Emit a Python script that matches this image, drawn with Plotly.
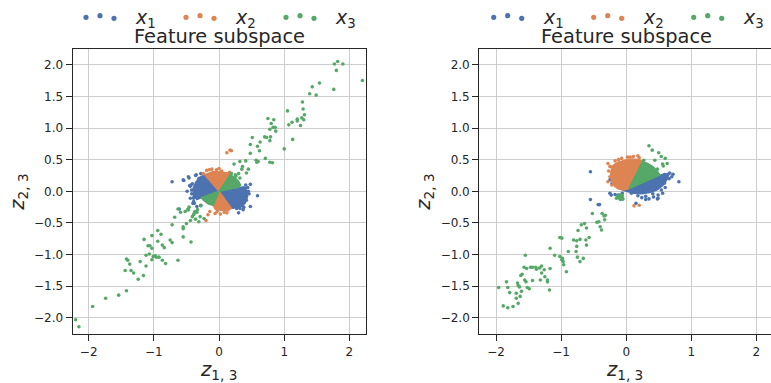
import plotly.graph_objects as go

# ---------------- data (data units) ----------------
series_labels = ["<i>x</i><sub>1</sub>", "<i>x</i><sub>2</sub>", "<i>x</i><sub>3</sub>"]
series_colors = ["#4c72b0", "#dd8452", "#55a868"]
x_ticks = [-2, -1, 0, 1, 2]
y_ticks = [-2.0, -1.5, -1.0, -0.5, 0.0, 0.5, 1.0, 1.5, 2.0]

# dense cores (outlines of the solid-looking point clouds)
left_x1_core = [(0, 0), (-0.22, 0.26), (-0.30, 0.22), (-0.36, 0.14), (-0.40, 0.04), (-0.39, -0.06),
                (-0.34, -0.13), (-0.27, -0.10), (0, 0), None,
                (0, 0), (0.31, 0.065), (0.38, 0.07), (0.43, 0.0), (0.43, -0.10), (0.40, -0.19),
                (0.33, -0.25), (0.19, -0.27), (0, 0)]
left_x2_core = [(0, 0), (0.17, 0.26), (0.12, 0.29), (0.0, 0.31), (-0.10, 0.31), (-0.18, 0.28),
                (-0.22, 0.26), (0, 0), None,
                (0, 0), (-0.09, -0.22), (-0.06, -0.28), (0.02, -0.30), (0.12, -0.30), (0.19, -0.27), (0, 0)]
left_x3_core = [(0, 0), (0.31, 0.065), (0.33, 0.10), (0.30, 0.16), (0.24, 0.22), (0.17, 0.26), (0, 0), None,
                (0, 0), (-0.27, -0.10), (-0.24, -0.14), (-0.16, -0.20), (-0.09, -0.22), (0, 0)]

left_x1_pts = [(-0.72, 0.15), (-0.54, 0.17), (-0.47, 0.23), (-0.45, 0.09), (-0.36, 0.25), (-0.41, 0.12),
               (-0.38, -0.08), (-0.39, -0.16), (-0.28, 0.28), (0.48, 0.11), (0.59, -0.07), (0.40, 0.05),
               (0.40, 0.02), (0.42, -0.08), (0.35, -0.19), (0.32, -0.27), (0.35, -0.22), (0.40, -0.11),
               (-0.38, -0.19), (-0.61, -0.28), (-0.44, 0.08), (-0.39, -0.11), (-0.55, 0.18), (-0.46, 0.21),
               (-0.35, 0.26), (-0.43, 0.10), (-0.49, 0.0), (-0.44, -0.11), (-0.40, -0.19), (-0.34, -0.24),
               (-0.28, -0.22), (0.27, -0.27), (0.42, -0.14), (0.45, 0.0), (0.41, 0.10), (0.37, -0.29),
               (0.30, -0.34), (0.48, -0.24), (0.44, 0.06), (0.46, -0.04), (0.38, -0.25), (-0.42, 0.02),
               (-0.42, -0.04), (-0.31, 0.20), (0.36, 0.03)]
left_x2_pts = [(0.12, 0.61), (0.17, 0.65), (0.19, 0.64), (-0.17, -0.37), (-0.20, -0.46), (0.14, -0.29),
               (-0.24, 0.28), (-0.19, 0.33), (-0.11, 0.35), (-0.04, 0.34), (0.04, 0.32), (0.12, 0.28),
               (-0.14, -0.32), (-0.06, -0.35), (0.02, -0.36), (0.12, -0.34), (0.08, -0.33), (-0.15, 0.34),
               (0.0, 0.36), (0.16, 0.30), (-0.03, -0.32)]
left_x3_pts = [(1.82, 2.05), (1.77, 2.01), (1.90, 2.01), (1.80, 1.91), (2.20, 1.75), (1.76, 1.61),
               (1.54, 1.71), (1.43, 1.65), (1.39, 1.54), (1.49, 1.52), (1.28, 1.41), (1.29, 1.30),
               (1.05, 1.27), (1.31, 1.21), (1.27, 1.16), (1.30, 1.13), (1.20, 1.14), (1.20, 1.11),
               (1.12, 1.09), (1.07, 1.05), (1.25, 1.04), (0.75, 1.15), (0.84, 1.13), (0.80, 1.07),
               (0.83, 1.01), (0.86, 1.01), (0.87, 0.95), (0.78, 0.98), (0.79, 0.86), (0.78, 0.80),
               (0.73, 0.85), (0.70, 0.86), (1.13, 0.82), (1.00, 0.67), (0.51, 0.85), (0.63, 0.78),
               (0.59, 0.71), (0.62, 0.64), (0.48, 0.74), (0.48, 0.60), (0.32, 0.47), (0.41, 0.48),
               (0.57, 0.49), (0.60, 0.47), (0.58, 0.46), (0.71, 0.52), (0.78, 0.46), (0.82, 0.45),
               (0.36, 0.39), (0.23, 0.43), (0.35, 0.35), (0.45, 0.35), (0.42, 0.29), (0.30, 0.28),
               (0.22, 0.18), (0.18, 0.22), (0.14, 0.15), (0.26, 0.24), (0.25, 0.26), (0.32, 0.21),
               (0.19, 0.28),
               (-2.20, -2.03), (-2.15, -2.14), (-1.94, -1.82), (-1.74, -1.69), (-1.54, -1.64),
               (-1.42, -1.57), (-1.24, -1.39), (-1.16, -1.33), (-1.44, -1.25), (-1.35, -1.25),
               (-1.31, -1.29), (-1.12, -1.18), (-1.21, -1.11), (-1.37, -1.15), (-1.40, -1.09),
               (-1.42, -1.07), (-1.12, -1.01), (-1.07, -0.99), (-1.03, -1.08), (-1.01, -1.03),
               (-0.98, -1.02), (-0.96, -1.04), (-0.92, -1.04), (-0.87, -1.09), (-0.82, -1.14),
               (-0.63, -1.09), (-1.15, -0.76), (-1.09, -0.86), (-1.06, -0.86), (-1.03, -0.90),
               (-0.94, -0.79), (-0.87, -0.85), (-0.84, -0.89), (-1.03, -0.70), (-0.94, -0.62),
               (-0.89, -0.68), (-0.75, -0.77), (-0.72, -0.81), (-0.55, -0.72), (-0.43, -0.80),
               (-0.72, -0.53), (-0.68, -0.41), (-0.63, -0.28), (-0.59, -0.33), (-0.55, -0.56),
               (-0.55, -0.59), (-0.52, -0.32), (-0.48, -0.29), (-0.46, -0.25), (-0.50, -0.51),
               (-0.44, -0.46), (-0.36, -0.44), (-0.31, -0.48), (-0.41, -0.40), (-0.38, -0.35),
               (-0.34, -0.33), (-0.33, -0.29), (-0.23, -0.43), (-0.28, -0.23), (-0.20, -0.14),
               (-0.15, -0.07), (-0.47, -0.29), (-0.37, -0.32), (-0.39, -0.37), (-0.29, -0.40)]

right_x1_core = [(0.04, 0.04), (0.52, 0.26), (0.59, 0.28), (0.65, 0.26), (0.63, 0.19), (0.57, 0.10),
                 (0.47, 0.02), (0.36, -0.02), (0.24, -0.04), (0.11, -0.03), (0.01, 0.0), (-0.06, 0.02),
                 (-0.02, 0.05), (0.04, 0.04)]
right_x2_core = [(0.04, 0.04), (-0.05, 0.02), (-0.12, 0.04), (-0.18, 0.08), (-0.23, 0.18), (-0.24, 0.30),
                 (-0.20, 0.41), (-0.12, 0.46), (-0.02, 0.49), (0.10, 0.51), (0.20, 0.50), (0.25, 0.47),
                 (0.04, 0.04)]
right_x3_core = [(0.04, 0.04), (0.25, 0.47), (0.33, 0.44), (0.41, 0.39), (0.47, 0.33), (0.52, 0.26),
                 (0.04, 0.04)]

right_x1_pts = [(-0.55, 0.31), (-0.25, 0.18), (-0.22, 0.12), (0.81, 0.15), (-0.55, -0.13), (-0.41, -0.21),
                (-0.43, -0.21), (-0.25, -0.03), (-0.23, -0.06), (0.48, -0.12), (0.49, -0.11), (0.30, -0.13),
                (0.67, 0.29), (0.70, 0.23), (0.59, 0.13), (0.54, 0.02), (0.49, -0.06), (0.41, -0.04),
                (0.30, -0.08), (0.18, -0.07), (0.08, -0.03), (-0.06, -0.03), (-0.12, -0.06), (0.15, -0.19),
                (0.35, -0.12), (0.62, 0.22), (0.64, 0.27), (0.60, 0.06), (0.56, -0.03), (0.42, -0.09),
                (0.24, -0.10), (-0.17, -0.05), (-0.06, -0.12), (0.66, 0.20), (0.72, 0.27), (0.58, 0.16)]
right_x2_pts = [(0.12, -0.23), (0.20, -0.22), (0.06, 0.54), (0.18, 0.56), (0.20, 0.53), (-0.28, 0.44),
                (-0.24, 0.39), (-0.25, 0.39), (-0.20, 0.31), (-0.25, 0.23), (0.11, 0.55), (-0.07, 0.52),
                (-0.17, 0.48), (-0.27, 0.32), (-0.28, 0.15), (-0.22, 0.10), (0.02, 0.54), (-0.12, 0.50)]
right_x3_pts = [(0.35, 0.72), (0.40, 0.65), (0.50, 0.61), (0.54, 0.55), (0.60, 0.52), (0.63, 0.44),
                (0.56, 0.43), (0.44, 0.49), (0.27, 0.49), (0.57, 0.40), (0.48, 0.35),
                (-0.12, -0.09), (-0.09, -0.13), (-0.06, -0.07), (-0.15, -0.11), (-0.13, -0.08),
                (-0.07, -0.06), (-0.10, -0.11), (-0.08, -0.10), (-0.10, -0.06), (-0.05, -0.12),
                (-1.96, -1.52), (-1.89, -1.81), (-1.82, -1.84), (-1.74, -1.82), (-1.82, -1.52),
                (-1.79, -1.60), (-1.84, -1.43), (-1.67, -1.45), (-1.66, -1.49), (-1.69, -1.61),
                (-1.69, -1.69), (-1.66, -1.77), (-1.63, -1.66), (-1.61, -1.58), (-1.64, -1.51),
                (-1.56, -1.40), (-1.54, -1.43), (-1.52, -1.52), (-1.49, -1.54), (-1.44, -1.41),
                (-1.62, -1.33), (-1.60, -1.31), (-1.57, -1.20), (-1.55, -1.01), (-1.53, -1.22),
                (-1.47, -1.20), (-1.44, -1.20), (-1.39, -1.20), (-1.38, -1.23), (-1.33, -1.21),
                (-1.30, -1.18), (-1.30, -1.29), (-1.26, -1.24), (-1.25, -1.35), (-1.21, -1.40),
                (-1.32, -1.40), (-1.21, -1.43), (-1.18, -1.56), (-1.17, -1.22), (-1.17, -0.90),
                (-1.10, -1.01), (-1.02, -1.03), (-1.02, -0.73), (-0.99, -0.74), (-0.99, -1.08),
                (-0.98, -1.06), (-0.97, -1.11), (-0.96, -1.16), (-0.92, -1.27), (-0.89, -0.95),
                (-0.81, -0.77), (-0.77, -0.95), (-0.75, -1.04), (-0.71, -1.11), (-0.66, -1.06),
                (-0.76, -0.87), (-0.76, -0.78), (-0.71, -0.76), (-0.74, -0.62), (-0.69, -0.53),
                (-0.64, -0.51), (-0.61, -0.58), (-0.62, -0.77), (-0.61, -0.85), (-0.57, -0.73),
                (-0.52, -0.35), (-0.45, -0.49), (-0.42, -0.48), (-0.40, -0.56), (-0.38, -0.61),
                (-0.37, -0.35), (-0.34, -0.39), (-0.33, -0.45), (-0.32, -0.38)]

# ---------------- figure ----------------
W, H = 771, 383
FONT = "DejaVu Sans"
INK = "#262626"


def split(pairs):
    xs, ys = [], []
    for p in pairs:
        if p is None:
            xs.append(None); ys.append(None)
        else:
            xs.append(p[0]); ys.append(p[1])
    return xs, ys


fig = go.Figure()
panels = [
    ("x", "y", [left_x1_core, left_x2_core, left_x3_core], [left_x1_pts, left_x2_pts, left_x3_pts]),
    ("x2", "y2", [right_x1_core, right_x2_core, right_x3_core], [right_x1_pts, right_x2_pts, right_x3_pts]),
]
for xa, ya, cores, pts in panels:
    for i in range(3):
        cx, cy = split(cores[i])
        fig.add_trace(go.Scatter(x=cx, y=cy, xaxis=xa, yaxis=ya, mode="lines", fill="toself",
                                 fillcolor=series_colors[i], line=dict(color=series_colors[i], width=1.5),
                                 hoverinfo="skip", showlegend=False))
        px_, py_ = split(pts[i])
        fig.add_trace(go.Scatter(x=px_, y=py_, xaxis=xa, yaxis=ya, mode="markers",
                                 marker=dict(color=series_colors[i], size=3.6, line=dict(width=0)),
                                 showlegend=False))

ydom = [1 - 334 / H, 1 - 49 / H]
left_dom = [72.7 / W, 365.7 / W]
right_dom = [479.3 / W, 1.0]

axis_common = dict(showline=True, linecolor=INK, linewidth=1.25, ticks="outside", ticklen=6,
                   tickwidth=1.25, tickcolor=INK, showgrid=True, gridcolor="#cccccc", gridwidth=1,
                   zeroline=False, tickfont=dict(family=FONT, size=12, color=INK))
xtitle = dict(text="<i>z</i><sub>1, 3</sub>", font=dict(family=FONT, size=19.5, color=INK), standoff=2)
ytitle = dict(text="<i>z</i><sub>2, 3</sub>", font=dict(family=FONT, size=19.5, color=INK), standoff=4)

fig.update_layout(
    width=W, height=H, margin=dict(l=0, r=0, t=0, b=0),
    paper_bgcolor="white", plot_bgcolor="white", showlegend=False,
    font=dict(family=FONT, color=INK),
    xaxis=dict(domain=left_dom, range=[-2.245, 2.25], tickvals=x_ticks, anchor="y", mirror=True,
               title=xtitle, **axis_common),
    yaxis=dict(domain=ydom, range=[-2.254, 2.248], tickvals=y_ticks, tickformat=".1f", anchor="x",
               mirror=True, title=ytitle, **axis_common),
    xaxis2=dict(domain=right_dom, range=[-2.258, 2.226], tickvals=x_ticks, anchor="y2", mirror=True,
                title=xtitle, **axis_common),
    yaxis2=dict(domain=ydom, range=[-2.254, 2.248], tickvals=y_ticks, tickformat=".1f", anchor="x2",
                mirror=False, title=ytitle, **axis_common),
)

# titles
for cx in [219.2, 626.3]:
    fig.add_annotation(text="Feature subspace", x=cx / W, y=1 - 36.5 / H, xref="paper", yref="paper",
                       xanchor="center", yanchor="middle", showarrow=False, borderpad=0,
                       font=dict(family=FONT, size=19.4, color=INK))

# legends (three scatter dots + label per series), drawn above each panel
dot_dx = [0, 14, 28]
dot_y = [17.3, 15.7, 18.3]
for base in [86, 493.7]:
    for i in range(3):
        x0 = base + 100 * i
        for dx, dy in zip(dot_dx, dot_y):
            fig.add_shape(type="circle", xref="paper", yref="paper", xsizemode="pixel", ysizemode="pixel",
                          xanchor=(x0 + dx) / W, yanchor=1 - dy / H, x0=-2.6, x1=2.6, y0=-2.6, y1=2.6,
                          fillcolor=series_colors[i], line=dict(width=0))
        fig.add_annotation(text=series_labels[i], x=(x0 + 48) / W, y=1 - 18.5 / H, xref="paper", yref="paper",
                           xanchor="left", yanchor="middle", showarrow=False, borderpad=0,
                           font=dict(family=FONT, size=19, color=INK))

fig.write_html("out.html")
